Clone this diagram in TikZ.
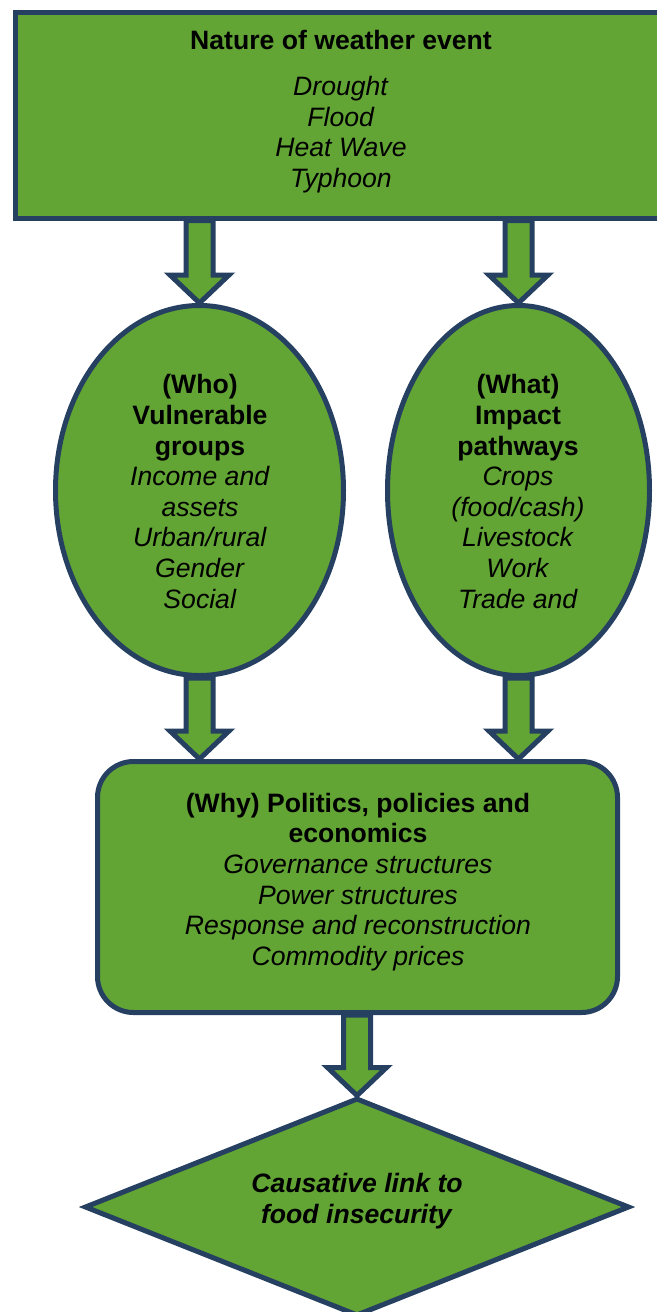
\documentclass[tikz,border=0pt]{standalone}
\usepackage{fontspec}
\setmainfont{Liberation Sans}
\usetikzlibrary{shapes.geometric,calc,backgrounds}

\definecolor{leaf}{RGB}{98,165,53}
\definecolor{navy}{RGB}{38,64,97}

\tikzset{
  greenshape/.style={draw=navy, fill=leaf, line width=2.5pt, inner sep=0pt},
  eventbox/.style={greenshape, rectangle, minimum width=332.25pt, minimum height=103pt},
  groupoval/.style={greenshape, ellipse, minimum height=185pt},
  whybox/.style={greenshape, rectangle, rounded corners=18pt, minimum width=260pt, minimum height=125.5pt},
  linkdiamond/.style={greenshape, diamond, minimum width=272.5pt, minimum height=109pt},
  fatarr/.style={draw=navy, fill=leaf, line width=2.5pt, line join=miter},
  txt/.style={align=center, font=\fontsize{13.3pt}{15.3pt}\selectfont},
}

% block arrow from #1 down to the tip #2
\newcommand{\fatarrow}[2]{%
  \draw[fatarr] ($(#1)+(-13.5,0)$) -- ($(#2)+(-13.5,-28)$) -- ($(#2)+(-29.5,-28)$) -- (#2)
    -- ($(#2)+(29.5,-28)$) -- ($(#2)+(13.5,-28)$) -- ($(#1)+(13.5,0)$) -- cycle;}

\begin{document}
\begin{tikzpicture}[x=0.5pt,y=-0.5pt]
	\useasboundingbox (0,0) rectangle (657,1312);
	\node[eventbox] (event) at (347.75,115) {};
	\node[txt] (eventtxt) at (341,111.5) {\textbf{Nature of weather event}\\[7.75pt]
		\textit{Drought}\\\textit{Flood}\\\textit{Heat Wave}\\\textit{Typhoon}};
	\node[groupoval, minimum width=144pt] (who) at (199.5,490.5) {};
	\node[txt] (whotxt) at (200,491.5) {\textbf{(Who)}\\\textbf{Vulnerable}\\\textbf{groups}\\
		\textit{Income and}\\\textit{assets}\\\textit{Urban/rural}\\\textit{Gender}\\\textit{Social}};
	\node[groupoval, minimum width=131pt] (what) at (518.5,490.5) {};
	\node[txt] (whattxt) at (518,491.5) {\textbf{(What)}\\\textbf{Impact}\\\textbf{pathways}\\
		\textit{Crops}\\\textit{(food/cash)}\\\textit{Livestock}\\\textit{Work}\\\textit{Trade and}};
	\node[whybox] (why) at (357.5,887) {};
	\node[txt] (whytxt) at (358,882) {\textbf{(Why) Politics, policies and}\\\textbf{economics}\\
		\textit{Governance structures}\\\textit{Power structures}\\
		\textit{Response and reconstruction}\\\textit{Commodity prices}};
	\node[linkdiamond] (link) at (357,1207) {};
	\node[txt] (linktxt) at (357,1201) {\textbf{\textit{Causative link to}}\\\textbf{\textit{food insecurity}}};

	\coordinate (a1) at (who.north |- event.south);
	\coordinate (a2) at (what.north |- event.south);
	\coordinate (b1) at (who.south |- why.north);
	\coordinate (b2) at (what.south |- why.north);
	\coordinate (c1) at (link.north |- why.south);
	\begin{scope}[on background layer]
		\fatarrow{a1}{who.north}
		\fatarrow{a2}{what.north}
		\fatarrow{who.south}{b1}
		\fatarrow{what.south}{b2}
		\fatarrow{c1}{link.north}
	\end{scope}
\end{tikzpicture}
\end{document}
